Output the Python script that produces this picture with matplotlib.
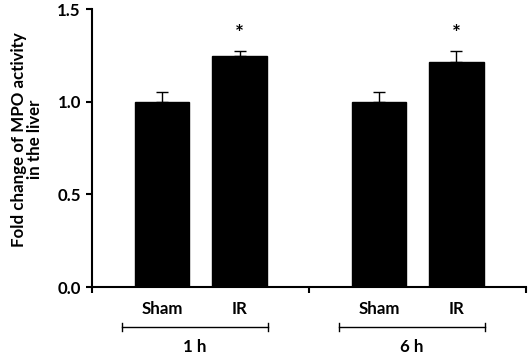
import matplotlib
matplotlib.use("Agg")
import matplotlib.pyplot as plt
import matplotlib.transforms as mtransforms

groups = ["1 h", "6 h"]
conditions = ["Sham", "IR"]
means = [[1.00, 1.245], [1.00, 1.213]]
errors = [[0.05, 0.03], [0.05, 0.06]]
significant = [[False, True], [False, True]]

plt.rcParams['font.family'] = ['Lato', 'DejaVu Sans']
plt.rcParams['font.weight'] = 'bold'

FS = 12.2

fig = plt.figure(figsize=(5.29, 3.55), dpi=100)
ax = fig.add_axes([0.174, 0.1915, 0.820, 0.7831])

offsets = [0.323, 0.680]
width = 0.25
trans = mtransforms.blended_transform_factory(ax.transData, ax.transAxes)
for gi, g in enumerate(groups):
    xs = [gi + o for o in offsets]
    ax.bar(xs, means[gi], width=width, color='black', edgecolor='black', zorder=2)
    ax.errorbar(xs, means[gi], yerr=[[0, 0], errors[gi]], fmt='none',
                ecolor='black', elinewidth=1, capsize=4, capthick=1, zorder=3)
    for ci, x in enumerate(xs):
        ax.text(x, -0.079, conditions[ci], transform=trans, ha='center', va='center',
                fontsize=FS, fontweight='bold')
        if significant[gi][ci]:
            ax.text(x, means[gi][ci] + errors[gi][ci] + 0.09, '*', ha='center', va='center',
                    fontsize=15, fontweight='bold')
    x0, x1 = gi + 0.138, gi + 0.811
    ax.plot([x0, x1], [-0.144, -0.144], transform=trans, color='black', lw=1, clip_on=False)
    for xe in (x0, x1):
        ax.plot([xe, xe], [-0.160, -0.128], transform=trans, color='black', lw=1, clip_on=False)
    ax.text((x0 + x1) / 2, -0.216, g, transform=trans, ha='center', va='center',
            fontsize=FS, fontweight='bold')

ax.set_xlim(0, 2)
ax.set_ylim(0, 1.5)
ax.set_xticks([0, 1, 2])
ax.set_xticklabels([])
ax.set_yticks([0, 0.5, 1.0, 1.5])
ax.set_yticklabels(['0.0', '0.5', '1.0', '1.5'])
ax.tick_params(axis='both', direction='out', length=4, width=1.5, labelsize=FS)
ax.tick_params(axis='y', pad=4)
for s in ['top', 'right']:
    ax.spines[s].set_visible(False)
for s in ['left', 'bottom']:
    ax.spines[s].set_linewidth(1.5)
ax.set_ylabel('Fold change of MPO activity\nin the liver', fontsize=FS, fontweight='bold',
              linespacing=1.05)
ax.yaxis.set_label_coords(-0.112, 0.53)

fig.savefig('out.png', dpi=100)
